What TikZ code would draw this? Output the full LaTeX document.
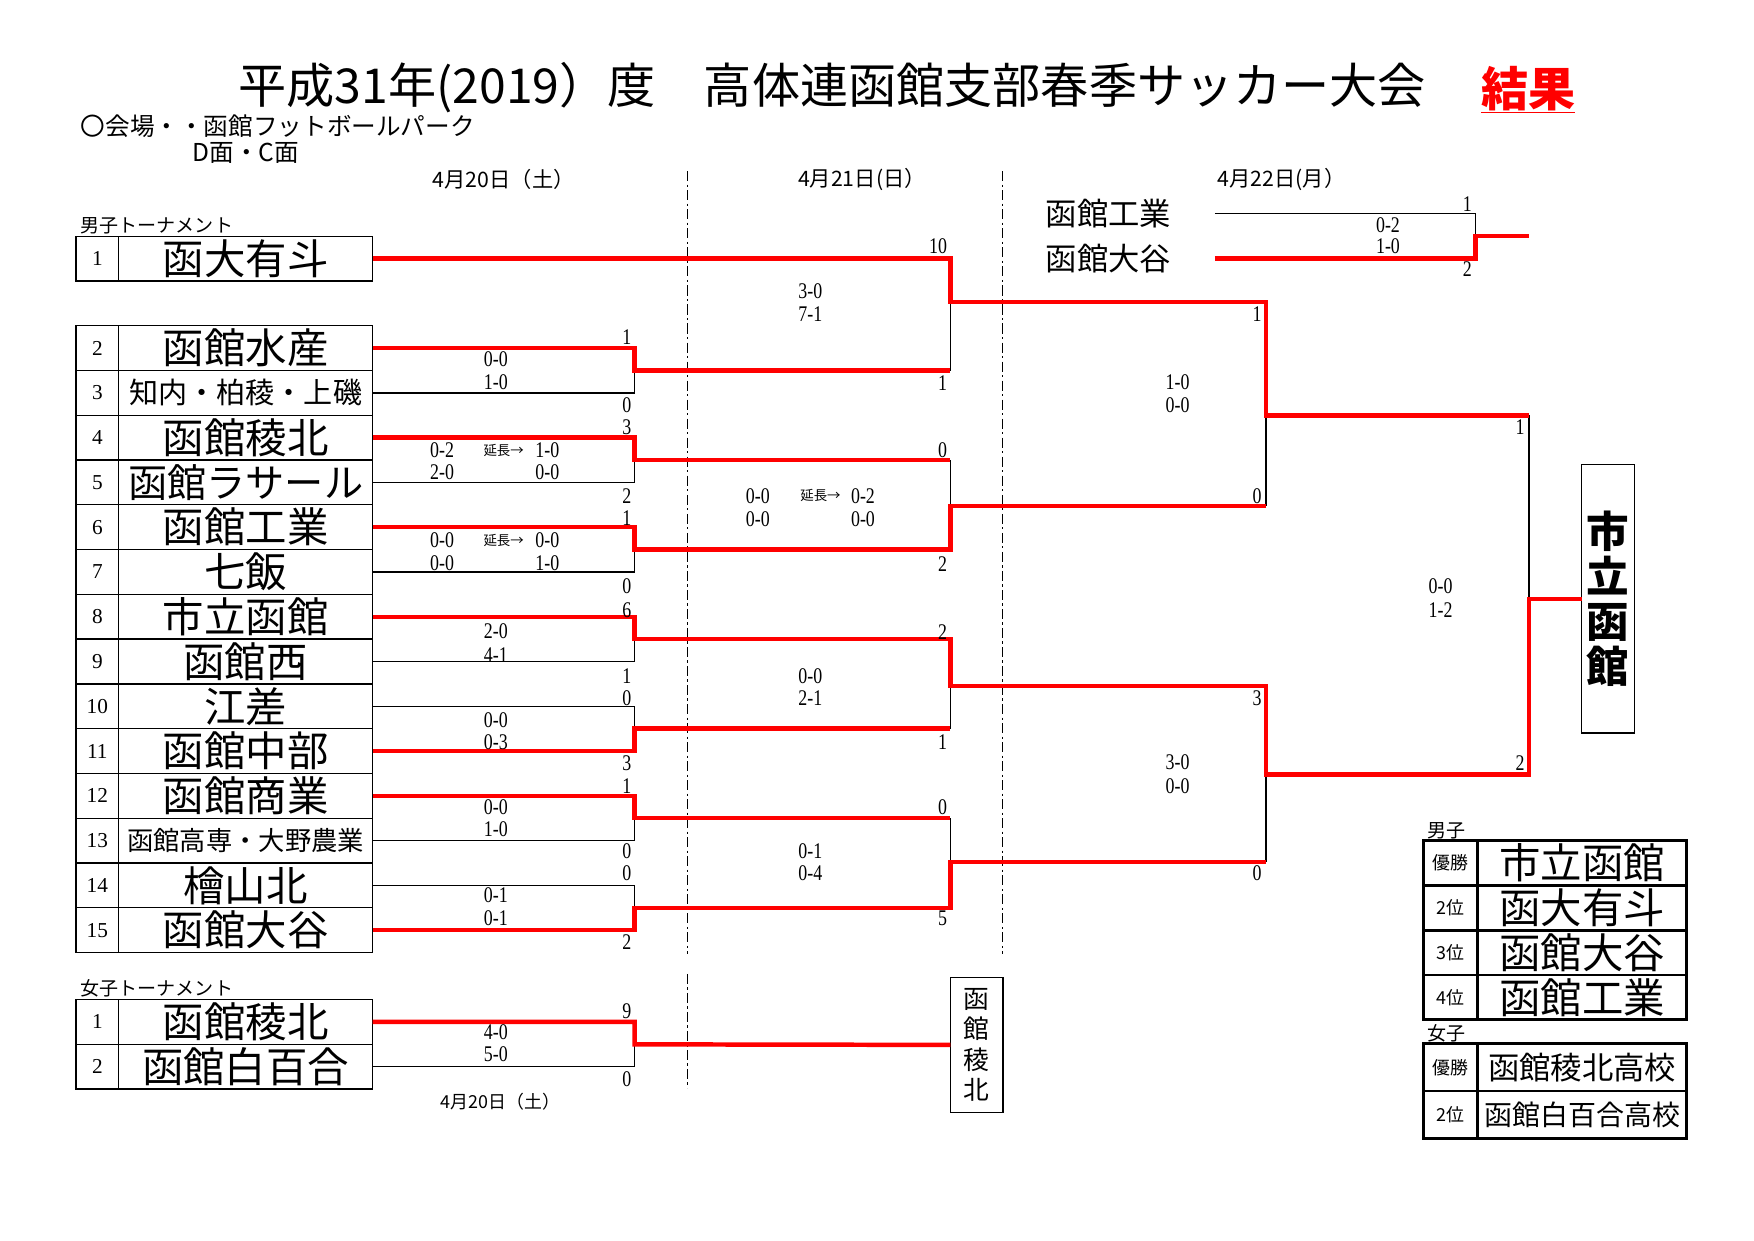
\documentclass[tikz,border=0pt]{standalone}
\usepackage{fontspec}
\setmainfont{Liberation Serif}
\newfontfamily\jp{Noto Sans CJK JP}
\newfontfamily\numfont[FakeStretch=0.8]{Liberation Serif}
\usetikzlibrary{positioning}

\begin{document}
\begin{tikzpicture}[
        x=1pt, y=-1pt,
        % Node styles
        cell/.style={draw, line width=1.2pt, outer sep=0pt, inner sep=0pt, minimum height=40pt},
        teamnum/.style={cell, minimum width=38pt, font={\fontsize{19}{19}\selectfont}},
        teamname/.style={cell, minimum width=227pt, font={\jp\fontsize{37}{37}\selectfont}},
        lbltext/.style={inner sep=0pt, font={\jp\fontsize{17}{17}\selectfont}},
        datetext/.style={inner sep=0pt, font={\jp\fontsize{19}{19}\selectfont}},
        score/.style={inner sep=0pt, font={\numfont\fontsize{20}{20}\selectfont}},
        extratime/.style={inner sep=0pt, font={\jp\fontsize{12}{12}\selectfont}},
        champbox/.style={draw, line width=1.2pt, outer sep=0pt, inner sep=0pt, align=center, minimum width=47pt},
        rescell/.style={draw, line width=2.5pt, outer sep=0pt, inner sep=0pt, minimum height=40pt},
        resrank/.style={rescell, minimum width=48pt, font={\jp\fontsize{16}{16}\selectfont}},
        resteam/.style={rescell, minimum width=187pt, font={\jp\fontsize{37}{37}\selectfont}},
        winline/.style={red, line width=4pt},
        loseline/.style={black, line width=1.2pt},
        dayline/.style={line width=1pt, dash pattern=on 9pt off 3pt on 2pt off 3pt}
    ]
        % Page
        \fill[white] (0,0) rectangle (1567,1108);
        \useasboundingbox (0,0) rectangle (1567,1108);

        % Title and venue
        \node[anchor=west, inner sep=0pt, font={\jp\fontsize{43}{43}\selectfont}] (title) at (213,78) {平成31年(2019）度　高体連函館支部春季サッカー大会};
        \node[anchor=west, inner sep=0pt, text=red, font={\jp\bfseries\fontsize{42}{42}\selectfont}] (result) at (1323,80) {\underline{結果}};
        \node[anchor=west, inner sep=0pt, font={\jp\fontsize{22}{22}\selectfont}] (venue) at (72,113) {〇会場・・函館フットボールパーク};
        \node[anchor=west, inner sep=0pt, font={\jp\fontsize{22}{22}\selectfont}] (field) at (172,137) {D面・C面};

        % Dates and day separators
        \node[datetext] (day1) at (450,160) {4月20日（土）};
        \node[datetext] (day2) at (770,160) {4月21日(日）};
        \node[datetext] (day3) at (1145,160) {4月22日(月）};
        \draw[dayline] (614,153) -- (614,852);
        \draw[dayline] (896,153) -- (896,852);
        \draw[dayline] (614,870) -- (614,972);

        % Boys team list
        \node[teamname] (t1) at (219.5,231) {函大有斗};
        \node[teamnum, left=0pt of t1] (n1) {1};
        \node[teamname, below=40pt of t1] (t2) {函館水産};
        \node[teamnum, left=0pt of t2] (n2) {2};
        \node[teamname, below=0pt of t2, font={\jp\fontsize{26}{26}\selectfont}] (t3) {知内・柏稜・上磯};
        \node[teamnum, left=0pt of t3] (n3) {3};
        \node[teamname, below=0pt of t3] (t4) {函館稜北};
        \node[teamnum, left=0pt of t4] (n4) {4};
        \node[teamname, below=0pt of t4, font={\jp\fontsize{35}{35}\selectfont}] (t5) {函館ラサール};
        \node[teamnum, left=0pt of t5] (n5) {5};
        \node[teamname, below=0pt of t5] (t6) {函館工業};
        \node[teamnum, left=0pt of t6] (n6) {6};
        \node[teamname, below=0pt of t6] (t7) {七飯};
        \node[teamnum, left=0pt of t7] (n7) {7};
        \node[teamname, below=0pt of t7] (t8) {市立函館};
        \node[teamnum, left=0pt of t8] (n8) {8};
        \node[teamname, below=0pt of t8] (t9) {函館西};
        \node[teamnum, left=0pt of t9] (n9) {9};
        \node[teamname, below=0pt of t9] (t10) {江差};
        \node[teamnum, left=0pt of t10] (n10) {10};
        \node[teamname, below=0pt of t10] (t11) {函館中部};
        \node[teamnum, left=0pt of t11] (n11) {11};
        \node[teamname, below=0pt of t11] (t12) {函館商業};
        \node[teamnum, left=0pt of t12] (n12) {12};
        \node[teamname, below=0pt of t12, font={\jp\fontsize{23.5}{24}\selectfont}] (t13) {函館高専・大野農業};
        \node[teamnum, left=0pt of t13] (n13) {13};
        \node[teamname, below=0pt of t13] (t14) {檜山北};
        \node[teamnum, left=0pt of t14] (n14) {14};
        \node[teamname, below=0pt of t14] (t15) {函館大谷};
        \node[teamnum, left=0pt of t15] (n15) {15};
        \node[lbltext, anchor=south west] (boys) at ([xshift=4pt, yshift=2pt]n1.north west) {男子トーナメント};

        % Girls team list
        \node[teamname] (w1) at (219.5,913) {函館稜北};
        \node[teamnum, left=0pt of w1] (wn1) {1};
        \node[teamname, below=0pt of w1] (w2) {函館白百合};
        \node[teamnum, left=0pt of w2] (wn2) {2};
        \node[lbltext, anchor=south west] (girls) at ([xshift=4pt, yshift=2pt]wn1.north west) {女子トーナメント};

        % Third place match
        \node[anchor=west, inner sep=0pt, text width=151pt, align=left, font={\jp\fontsize{28}{28}\selectfont}] (p1) at (934,191) {函館工業};
        \node[anchor=west, inner sep=0pt, text width=151pt, align=left, font={\jp\fontsize{28}{28}\selectfont}] (p2) at (934,231) {函館大谷};

        % Winner boxes
        \node[champbox, minimum height=240pt, font={\jp\bfseries\fontsize{38}{40}\selectfont}] (champ) at (1436.5,535) {市\\立\\函\\館};
        \node[champbox, minimum height=121pt, font={\jp\fontsize{23}{27}\selectfont}] (wchamp) at (872.5,933.5) {函\\館\\稜\\北};

        % Match points
        \coordinate (m23) at (567,331);
        \coordinate (m45) at (567,411);
        \coordinate (m67) at (567,491);
        \coordinate (m89) at (567,571);
        \coordinate (m1011) at (567,651);
        \coordinate (m1213) at (567,731);
        \coordinate (m1415) at (567,811);
        \coordinate (qa) at (849,270);
        \coordinate (qb) at (849,452);
        \coordinate (qc) at (849,613);
        \coordinate (qd) at (849,770);
        \coordinate (sa) at (1131,371);
        \coordinate (sb) at (1131,692);
        \coordinate (fin) at (1366,535);
        \coordinate (thr) at (1318,211);
        \coordinate (thrend) at (1366,211);
        \coordinate (mw) at (567,933);

        % Losing sides
        \draw[loseline] (t3.east) -| (m23);
        \draw[loseline] (t5.east) -| (m45);
        \draw[loseline] (t7.east) -| (m67);
        \draw[loseline] (t9.east) -| (m89);
        \draw[loseline] (t10.east) -| (m1011);
        \draw[loseline] (t13.east) -| (m1213);
        \draw[loseline] (t14.east) -| (m1415);
        \draw[loseline] (m23 -| qa) -- (qa);
        \draw[loseline] (m45 -| qb) -- (qb);
        \draw[loseline] (m1011 -| qc) -- (qc);
        \draw[loseline] (m1213 -| qd) -- (qd);
        \draw[loseline] (qb -| sa) -- (sa);
        \draw[loseline] (qd -| sb) -- (sb);
        \draw[loseline] (sa -| fin) -- (fin);
        \draw[loseline] (p1.east) -| (thr);
        \draw[loseline] (w2.east) -| (mw);

        % Winning paths
        \draw[winline] (t1.east) -| (qa) -| (sa) -- (sa -| fin);
        \draw[winline] (t2.east) -| (m23) -- (m23 -| qa);
        \draw[winline] (t4.east) -| (m45) -- (m45 -| qb);
        \draw[winline] (t6.east) -| (m67) -| (qb) -- (qb -| sa);
        \draw[winline] (t8.east) -| (m89) -| (qc) -| (sb) -| (fin) -- (champ.west);
        \draw[winline] (t11.east) -| (m1011) -- (m1011 -| qc);
        \draw[winline] (t12.east) -| (m1213) -- (m1213 -| qd);
        \draw[winline] (t15.east) -| (m1415) -| (qd) -- (qd -| sb);
        \draw[winline] (p2.east) -| (thr) -- (thrend);
        \draw[winline] (w1.east) -| (mw) -- (wchamp.west);

        % First round scores
        \node[score] (s23a) at (560,301) {1};
        \node[score] (s23b) at (560,362) {0};
        \node[score] (g23a) at (443,321) {0-0};
        \node[score] (g23b) at (443,341) {1-0};
        \node[score] (s45a) at (560,382) {3};
        \node[score] (s45b) at (560,443) {2};
        \node[score] (g45a) at (395,402) {0-2};
        \node[extratime] (x45) at (450,402) {延長→};
        \node[score] (g45c) at (489,402) {1-0};
        \node[score] (g45b) at (395,422) {2-0};
        \node[score] (g45d) at (489,422) {0-0};
        \node[score] (s67a) at (560,463) {1};
        \node[score] (s67b) at (560,524) {0};
        \node[score] (g67a) at (395,483) {0-0};
        \node[extratime] (x67) at (450,483) {延長→};
        \node[score] (g67c) at (489,483) {0-0};
        \node[score] (g67b) at (395,503) {0-0};
        \node[score] (g67d) at (489,503) {1-0};
        \node[score] (s89a) at (560,545) {6};
        \node[score] (s89b) at (560,604) {1};
        \node[score] (g89a) at (443,564) {2-0};
        \node[score] (g89b) at (443,585) {4-1};
        \node[score] (s1011a) at (560,624) {0};
        \node[score] (s1011b) at (560,682) {3};
        \node[score] (g1011a) at (443,643) {0-0};
        \node[score] (g1011b) at (443,663) {0-3};
        \node[score] (s1213a) at (560,702) {1};
        \node[score] (s1213b) at (560,760) {0};
        \node[score] (g1213a) at (443,721) {0-0};
        \node[score] (g1213b) at (443,741) {1-0};
        \node[score] (s1415a) at (560,780) {0};
        \node[score] (s1415b) at (560,842) {2};
        \node[score] (g1415a) at (443,800) {0-1};
        \node[score] (g1415b) at (443,820) {0-1};

        % Second round scores
        \node[score] (sqaa) at (838,220) {10};
        \node[score] (sqab) at (842,342) {1};
        \node[score] (gqaa) at (724,260) {3-0};
        \node[score] (gqab) at (724,281) {7-1};
        \node[score] (sqba) at (842,402) {0};
        \node[score] (sqbb) at (842,504) {2};
        \node[score] (gqba) at (677,443) {0-0};
        \node[extratime] (xqb) at (733,443) {延長→};
        \node[score] (gqbc) at (771,443) {0-2};
        \node[score] (gqbb) at (677,464) {0-0};
        \node[score] (gqbd) at (771,464) {0-0};
        \node[score] (sqca) at (842,565) {2};
        \node[score] (sqcb) at (842,663) {1};
        \node[score] (gqca) at (724,604) {0-0};
        \node[score] (gqcb) at (724,624) {2-1};
        \node[score] (sqda) at (842,721) {0};
        \node[score] (sqdb) at (842,820) {5};
        \node[score] (gqda) at (724,760) {0-1};
        \node[score] (gqdb) at (724,780) {0-4};

        % Semi final and final scores
        \node[score] (ssaa) at (1123,281) {1};
        \node[score] (ssab) at (1123,443) {0};
        \node[score] (gsaa) at (1052,341) {1-0};
        \node[score] (gsab) at (1052,362) {0-0};
        \node[score] (ssba) at (1123,624) {3};
        \node[score] (ssbb) at (1123,780) {0};
        \node[score] (gsba) at (1052,681) {3-0};
        \node[score] (gsbb) at (1052,702) {0-0};
        \node[score] (sfa) at (1358,382) {1};
        \node[score] (sfb) at (1358,682) {2};
        \node[score] (gfa) at (1287,524) {0-0};
        \node[score] (gfb) at (1287,545) {1-2};

        % Third place scores
        \node[score] (sta) at (1311,182) {1};
        \node[score] (stb) at (1311,240) {2};
        \node[score] (gta) at (1240,201) {0-2};
        \node[score] (gtb) at (1240,220) {1-0};

        % Girls scores
        \node[score] (swa) at (560,903) {9};
        \node[score] (swb) at (560,964) {0};
        \node[score] (gwa) at (443,922) {4-0};
        \node[score] (gwb) at (443,942) {5-0};
        \node[datetext, font={\jp\fontsize{16}{16}\selectfont}] (day4) at (447,984) {4月20日（土）};

        % Final standings
        \node[resteam] (rt1) at (1413.5,771) {市立函館};
        \node[resrank, left=0pt of rt1] (rr1) {優勝};
        \node[resteam, below=0pt of rt1] (rt2) {函大有斗};
        \node[resrank, left=0pt of rt2] (rr2) {2位};
        \node[resteam, below=0pt of rt2] (rt3) {函館大谷};
        \node[resrank, left=0pt of rt3] (rr3) {3位};
        \node[resteam, below=0pt of rt3] (rt4) {函館工業};
        \node[resrank, left=0pt of rt4] (rr4) {4位};
        \node[lbltext, anchor=south west] (boysres) at ([xshift=3pt, yshift=1pt]rr1.north west) {男子};
        \node[resteam, minimum height=42.5pt, font={\jp\fontsize{28}{28}\selectfont}] (rw1) at (1413.5,953.5) {函館稜北高校};
        \node[resrank, minimum height=42.5pt, left=0pt of rw1] (rq1) {優勝};
        \node[resteam, minimum height=42.5pt, below=0pt of rw1, font={\jp\fontsize{25}{25}\selectfont}] (rw2) {函館白百合高校};
        \node[resrank, minimum height=42.5pt, left=0pt of rw2] (rq2) {2位};
        \node[lbltext, anchor=south west] (girlsres) at ([xshift=3pt, yshift=1pt]rq1.north west) {女子};
    \end{tikzpicture}
\end{document}
